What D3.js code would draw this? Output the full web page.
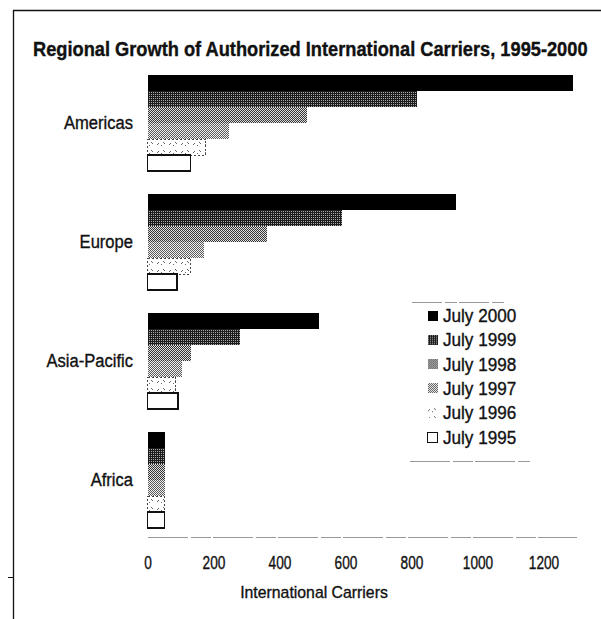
<!DOCTYPE html>
<html>
<head>
<meta charset="utf-8">
<script src="https://cdn.jsdelivr.net/npm/d3@7"></script>
<style>
  html, body { margin: 0; padding: 0; background: #fff; }
  svg { display: block; }
  text { font-family: "Liberation Sans", Arial, sans-serif; fill: #111; }
  .heavy { stroke: #111; stroke-width: 0.35px; }
</style>
</head>
<body>
<svg id="chart" width="601" height="619"></svg>
<script>
// Authorized international carriers by region, July of each year
const regions = ["Americas", "Europe", "Asia-Pacific", "Africa"];
const years = ["July 2000", "July 1999", "July 1998", "July 1997", "July 1996", "July 1995"];
const july2000 = [1290, 935, 520, 53];
const july1999 = [817, 590, 280, 52];
const july1998 = [483, 362, 132, 52];
const july1997 = [247, 171, 104, 52];
const july1996 = [177, 129, 86, 50];
const july1995 = [130, 89, 92, 52];
const xTicks = [0, 200, 400, 600, 800, 1000, 1200];

const seriesValues = [july2000, july1999, july1998, july1997, july1996, july1995];
const rows = regions.map((r, i) => ({
  region: r,
  values: years.map((y, j) => ({ year: y, value: seriesValues[j][i] }))
}));

const svg = d3.select("#chart");
const defs = svg.append("defs");

// Halftone-like fills for each year
function checker(id, bg, dots) {
  const p = defs.append("pattern").attr("id", id)
    .attr("patternUnits", "userSpaceOnUse").attr("width", 2).attr("height", 2);
  p.append("rect").attr("width", 2).attr("height", 2).attr("fill", bg);
  dots.forEach(d => p.append("rect").attr("x", d[0]).attr("y", d[1])
    .attr("width", 1).attr("height", 1).attr("fill", d[2]));
}
checker("p1999", "#1c1c1c", [[1, 1, "#aaa"]]);
checker("p1998", "#333", [[1, 0, "#e6e6e6"], [0, 1, "#d8d8d8"]]);
checker("p1997", "#5a5a5a", [[1, 0, "#f4f4f4"], [0, 1, "#eee"]]);
const p96 = defs.append("pattern").attr("id", "p1996")
  .attr("patternUnits", "userSpaceOnUse").attr("width", 12).attr("height", 8);
p96.append("rect").attr("width", 12).attr("height", 8).attr("fill", "#fff");
p96.append("path").attr("d", "M1,6 L3,4 M7,3 L9,5 M5,7 L6,6")
  .attr("stroke", "#666").attr("stroke-width", 1);

const fills = {
  "July 2000": { fill: "#000", stroke: "none", dash: null },
  "July 1999": { fill: "url(#p1999)", stroke: "none", dash: null },
  "July 1998": { fill: "url(#p1998)", stroke: "none", dash: null },
  "July 1997": { fill: "url(#p1997)", stroke: "none", dash: null },
  "July 1996": { fill: "url(#p1996)", stroke: "#444", dash: "2,2" },
  "July 1995": { fill: "#fff", stroke: "#111", dash: null }
};

// Condense a text element horizontally by factor k of its natural width
function condense(sel, k) {
  sel.each(function () {
    const w = this.getComputedTextLength();
    d3.select(this).attr("textLength", w * k).attr("lengthAdjust", "spacingAndGlyphs");
  });
  return sel;
}

// Frame
svg.append("line").attr("x1", 13.5).attr("x2", 13.5).attr("y1", 10).attr("y2", 619)
  .attr("stroke", "#111").attr("stroke-width", 1.3);
svg.append("line").attr("x1", 13).attr("x2", 601).attr("y1", 10.5).attr("y2", 10.5)
  .attr("stroke", "#111").attr("stroke-width", 1.3);
svg.append("line").attr("x1", 8).attr("x2", 13).attr("y1", 577.5).attr("y2", 577.5)
  .attr("stroke", "#111");

// Title, squeezed to span the chart width
const title = svg.append("g");
const titleText = title.append("text").attr("x", 0).attr("y", 0)
  .attr("font-size", 21).attr("font-weight", "bold")
  .style("stroke", "#111").style("stroke-width", "0.4px")
  .text("Regional Growth of Authorized International Carriers, 1995-2000");
const tw = titleText.node().getComputedTextLength();
title.attr("transform", `translate(33,56) scale(${555 / tw},1)`);

// Scales
const x = d3.scaleLinear().domain([0, 1300]).range([147.5, 576.5]);
const y = d3.scaleBand().domain(regions).range([75, 528]).paddingInner(23 / 119).paddingOuter(0);
const yInner = d3.scaleBand().domain(years).range([0, y.bandwidth()]);

// Bars
const groups = svg.append("g").selectAll("g").data(rows).join("g")
  .attr("transform", d => `translate(0,${y(d.region)})`);
groups.selectAll("rect").data(d => d.values).join("rect")
  .attr("x", x(0))
  .attr("y", d => yInner(d.year))
  .attr("width", d => x(d.value) - x(0))
  .attr("height", yInner.bandwidth())
  .attr("fill", d => fills[d.year].fill)
  .attr("stroke", d => fills[d.year].stroke)
  .attr("stroke-width", d => d.year === "July 1995" ? 1.5 : 1)
  .attr("stroke-dasharray", d => fills[d.year].dash)
  .attr("shape-rendering", "crispEdges");

// Region labels
condense(svg.append("g").selectAll("text").data(regions).join("text")
  .attr("class", "heavy")
  .attr("x", 133)
  .attr("y", d => y(d) + y.bandwidth() / 2 + 6)
  .attr("text-anchor", "end")
  .attr("font-size", 18)
  .text(d => d), 0.92);

// X axis
const xAxis = svg.append("g").attr("transform", "translate(0,537)")
  .call(d3.axisBottom(x).tickValues(xTicks).tickFormat(d3.format("d")).tickSize(0).tickPadding(19));
xAxis.select(".domain").attr("stroke", "#999").attr("stroke-width", 1.2)
  .attr("stroke-dasharray", "40,3,20,2");
xAxis.selectAll("text").attr("class", "heavy").attr("font-size", 18).attr("fill", "#111")
  .attr("font-family", "'Liberation Sans', Arial, sans-serif");
condense(xAxis.selectAll("text"), 0.76);

condense(svg.append("text").attr("class", "heavy").attr("x", 314).attr("y", 598)
  .attr("text-anchor", "middle").attr("font-size", 17)
  .text("International Carriers"), 0.93);

// Legend
const legend = svg.append("g");
legend.append("line").attr("x1", 412).attr("x2", 505).attr("y1", 302.5).attr("y2", 302.5)
  .attr("stroke", "#999").attr("stroke-dasharray", "30,3,12,2");
legend.append("line").attr("x1", 410).attr("x2", 530).attr("y1", 461.5).attr("y2", 461.5)
  .attr("stroke", "#999").attr("stroke-dasharray", "40,3,20,2");
const items = legend.selectAll("g.item").data(years).join("g").attr("class", "item")
  .attr("transform", (d, i) => `translate(427,${316 + i * 24.3})`);
items.append("rect")
  .attr("x", 0.5).attr("y", -5.5).attr("width", 10).attr("height", 10)
  .attr("fill", d => fills[d].fill)
  .attr("stroke", d => d === "July 1995" ? "#111" : "none")
  .attr("shape-rendering", "crispEdges");
condense(items.append("text").attr("class", "heavy").attr("x", 16).attr("y", 6)
  .attr("font-size", 18).text(d => d), 0.95);
</script>
</body>
</html>
